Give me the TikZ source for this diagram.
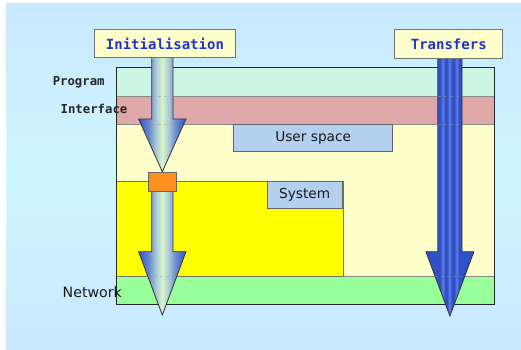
\documentclass[tikz,border=0pt]{standalone}
\usepackage{fontspec}
\setmainfont{DejaVu Sans}
\newfontfamily\codefont{DejaVu Sans Mono}

\definecolor{bgtop}{HTML}{C9E8FE}
\definecolor{bgmid}{HTML}{CDF6FF}
\definecolor{programband}{HTML}{CCF5E3}
\definecolor{interfaceband}{HTML}{DFA9A9}
\definecolor{userzone}{HTML}{FFFFCC}
\definecolor{systemzone}{HTML}{FFFF00}
\definecolor{netband}{HTML}{99FF99}
\definecolor{tagfill}{HTML}{B4D0F0}
\definecolor{titlefill}{HTML}{FFFFCC}
\definecolor{titleink}{HTML}{2233CC}
\definecolor{gatefill}{HTML}{FF9020}
\definecolor{deepblue}{HTML}{3852CC}
\definecolor{steelblue}{HTML}{6A8CCC}
\definecolor{hazeblue}{HTML}{A8C8D8}
\definecolor{palegreen}{HTML}{D8F5C8}
\definecolor{flowblue}{HTML}{3050C8}
\definecolor{flowlight}{HTML}{5F7DDE}

% soft blue-to-green ribbon for the initialisation flow
\pgfdeclarehorizontalshading{initflow}{100bp}{%
  color(0bp)=(deepblue); color(25bp)=(deepblue); color(36bp)=(steelblue);
  color(43bp)=(hazeblue); color(50bp)=(palegreen); color(57bp)=(hazeblue);
  color(64bp)=(steelblue); color(75bp)=(deepblue); color(100bp)=(deepblue)}
% striped blue for the data transfer flow
\pgfdeclarehorizontalshading{transferflow}{100bp}{%
  color(0bp)=(flowblue); color(40bp)=(flowblue); color(42.5bp)=(flowlight);
  color(45bp)=(flowblue); color(47bp)=(flowblue); color(49.5bp)=(flowlight);
  color(52bp)=(flowblue); color(54.5bp)=(flowblue); color(57bp)=(flowlight);
  color(59.5bp)=(flowblue); color(100bp)=(flowblue)}

% #1 style, #2 centre x, #3 top y, #4 shaft half width,
% #5 head base y, #6 head half width, #7 tip y
\newcommand\fatarrow[7]{%
  \path[#1] ({#2-#4},#3) -- ({#2+#4},#3) -- ({#2+#4},#5) -- ({#2+#6},#5)
    -- (#2,#7) -- ({#2-#6},#5) -- ({#2-#4},#5) -- cycle;}

\tikzset{
  band/.style={draw=black!45, line width=0.6pt},
  tagbox/.style={draw=black!60, line width=0.8pt, fill=tagfill},
  titlebox/.style={draw=black!55, line width=0.9pt, fill=titlefill, inner sep=0pt,
    font=\codefont\bfseries\fontsize{14}{16}\selectfont, text=titleink},
  layerlabel/.style={font=\codefont\bfseries\fontsize{12.3}{14}\selectfont, text=black!85},
  zonelabel/.style={font=\fontsize{13.7}{16}\selectfont, text=black!90},
  initarrow/.style={draw=black!80, line width=0.8pt, shading=initflow},
  transferarrow/.style={draw=black!80, line width=0.8pt, shading=transferflow},
  seam/.style={draw=black!40, dashed, line width=0.5pt, opacity=0.5}
}

\begin{document}
\begin{tikzpicture}[x=1pt, y=-1pt]
\useasboundingbox (0,0) rectangle (521,350);

% backdrop
\shade[top color=bgtop, bottom color=bgtop, middle color=bgmid] (6,4) rectangle (521,350);

% layered stack
\fill[userzone] (116,124) rectangle (494.7,276);
\draw[band, fill=programband] (116,67) rectangle (494.7,96);
\draw[band, fill=interfaceband] (116,96) rectangle (494.7,124);
\draw[band, fill=netband] (116,276) rectangle (494.7,304);
\draw[band, draw=black!55, fill=systemzone] (116,181.3) rectangle (343.3,276);
\node[tagbox, minimum width=159pt, minimum height=27pt, anchor=north west]
  (user) at (233.3,124) {};
\node[zonelabel] at (user.center) {User space};
\node[tagbox, minimum width=75pt, minimum height=27pt, anchor=north west]
  (sys) at (266.7,181.3) {};
\node[zonelabel] at (sys.center) {System};
\draw[black!85, line width=0.8pt] (116,67) rectangle (494.7,304);

% flows
\fatarrow{initarrow}{162.3}{57}{10.65}{119}{23.65}{171.7}
\fatarrow{initarrow}{162.3}{188}{10.65}{251.7}{23.65}{315}
\fatarrow{transferarrow}{449.9}{58}{12.15}{251.7}{24}{316}
\foreach \yy in {96,124} {
  \draw[seam] (151.7,\yy) -- (173,\yy);
  \draw[seam] (437.7,\yy) -- (462,\yy);
}
\draw[seam] (148,276) -- (177,276);
\draw[seam] (435,276) -- (465,276);

% gate between user and system space
\node[draw=black!60, line width=0.7pt, fill=gatefill, minimum width=28.3pt,
  minimum height=19pt, inner sep=0pt, anchor=north west] (gate) at (147.7,171.7) {};

% flow titles
\node[titlebox, minimum width=141.6pt, minimum height=28.6pt, anchor=north west]
  (init) at (93.7,28.7) {Initialisation};
\node[titlebox, minimum width=108pt, minimum height=29pt, anchor=north west]
  (xfer) at (394.3,29.3) {Transfers};

% layer names
\node[layerlabel] (prog) at (78.7,82) {Program};
\node[layerlabel] (intf) at (94,109) {Interface};
\node[zonelabel, font=\fontsize{14.2}{16}\selectfont] (net) at (92.3,292.5) {Network};
\end{tikzpicture}
\end{document}
